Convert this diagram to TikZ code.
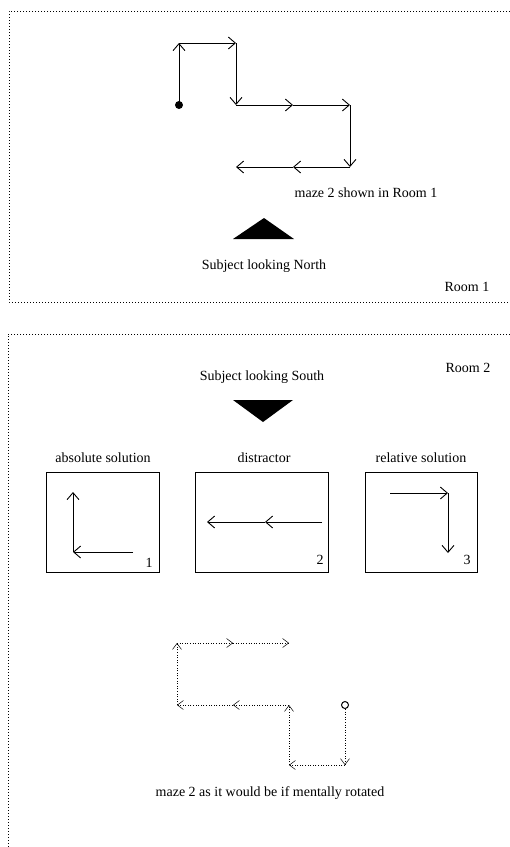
\documentclass[tikz,border=0pt]{standalone}
\usepackage{fontspec}
\setmainfont{Liberation Serif}
\usetikzlibrary{arrows.meta}

\begin{document}
\begin{tikzpicture}[x=1pt,y=-1pt,
  room/.style={line width=0.9pt,dash pattern=on 1pt off 2pt},
  mazeline/.style={line width=0.9pt,-{Straight Barb[length=7pt,width=12pt,line width=0.9pt]}},
  ghostline/.style={line width=0.8pt,dash pattern=on 1pt off 1.6pt,-{Straight Barb[length=6pt,width=9pt,line width=0.5pt]}},
  choicebox/.style={draw,line width=1pt,minimum width=113pt,minimum height=100pt,inner sep=0pt},
  lbl/.style={font=\fontsize{14}{16}\selectfont,inner sep=0pt}]
\useasboundingbox (0,0) rectangle (510,847);
\draw[room] (510,11) -- (9,11) -- (9,302) -- (510,302);
\draw[room] (510,334) -- (8,334) -- (8,847);
\coordinate (p0) at (179,105);
\coordinate (p1) at (179,43);
\coordinate (p2) at (236,43);
\coordinate (p3) at (236,105);
\coordinate (p4) at (293,105);
\coordinate (p5) at (350,105);
\coordinate (p6) at (350,167);
\coordinate (p7) at (293,167);
\coordinate (p8) at (236,167);
\node[circle,fill,inner sep=0pt,minimum size=8pt] (start) at (p0) {};
\foreach \a/\b in {p0/p1,p1/p2,p2/p3,p3/p4,p4/p5,p5/p6,p6/p7,p7/p8}
  \draw[mazeline] (\a) -- (\b);
\node[lbl] (maze) at (366,193) {maze 2 shown in Room 1};
\fill (233,239) -- (264,218) -- (294,239) -- cycle;
\node[lbl] (north) at (264,266) {Subject looking North};
\node[lbl] (room1) at (467,287) {Room 1};
\node[lbl] (room2) at (468,368) {Room 2};
\node[lbl] (south) at (262,377) {Subject looking South};
\fill (233,400) -- (293,400) -- (263,422) -- cycle;
\node[lbl] (absl) at (103,458) {absolute solution};
\node[lbl] (disl) at (264,458) {distractor};
\node[lbl] (rell) at (421,458) {relative solution};
\node[choicebox] (abs) at (102.5,522) {};
\node[choicebox,minimum width=133pt] (dis) at (261.5,522) {};
\node[choicebox,minimum width=112pt] (rel) at (421,522) {};
\node[lbl] (n1) at (149,563) {1};
\node[lbl] (n2) at (320,560) {2};
\node[lbl] (n3) at (467,560) {3};
\coordinate (a0) at (133,552);
\coordinate (a1) at (73,552);
\coordinate (a2) at (73,492);
\draw[mazeline] (a0) -- (a1);
\draw[mazeline] (a1) -- (a2);
\coordinate (d0) at (322,522);
\coordinate (d1) at (265,522);
\coordinate (d2) at (207,522);
\draw[mazeline] (d0) -- (d1);
\draw[mazeline] (d1) -- (d2);
\coordinate (r0) at (390,493);
\coordinate (r1) at (448,493);
\coordinate (r2) at (448,553);
\draw[mazeline] (r0) -- (r1);
\draw[mazeline] (r1) -- (r2);
\coordinate (q0) at (345,705);
\coordinate (q1) at (345,765);
\coordinate (q2) at (289,765);
\coordinate (q3) at (289,705);
\coordinate (q4) at (233,705);
\coordinate (q5) at (177,705);
\coordinate (q6) at (177,643);
\coordinate (q7) at (233,643);
\coordinate (q8) at (289,643);
\node[circle,draw,line width=1pt,inner sep=0pt,minimum size=7pt] (end) at (q0) {};
\draw[ghostline] (end) -- (q1);
\foreach \a/\b in {q1/q2,q2/q3,q3/q4,q4/q5,q5/q6,q6/q7,q7/q8}
  \draw[ghostline] (\a) -- (\b);
\node[lbl] (rot) at (270,793) {maze 2 as it would be if mentally rotated};
\end{tikzpicture}
\end{document}
